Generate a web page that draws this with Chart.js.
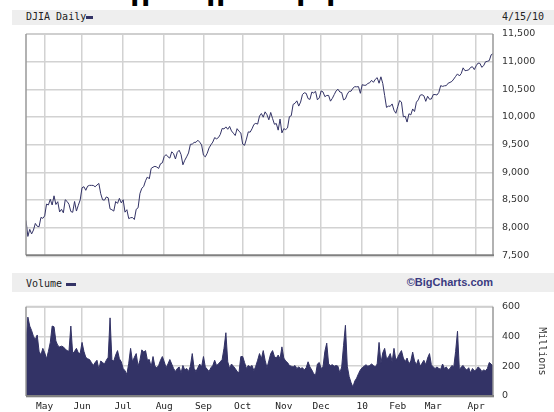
<!DOCTYPE html>
<html lang="en">
<head>
<meta charset="UTF-8">
<title>DJIA Daily</title>
<script src="https://cdn.jsdelivr.net/npm/chart.js"></script>
<style>
  body { margin:0; width:554px; height:412px; background:#fff; position:relative; overflow:hidden;
         font-family:"DejaVu Sans Mono", monospace; }
  .band { position:absolute; left:12px; right:0; background:#eeeeee; }
  #band1 { top:10px; height:15px; }
  #band2 { top:273px; height:19px; }
  .lbl { position:absolute; font-size:10px; line-height:12px; color:#222; white-space:nowrap; }
  .swatch { position:absolute; background:#333366; }
  .brand { position:absolute; right:61px; top:276px; font:bold 11px/13px "Liberation Sans", Arial, sans-serif; color:#3a3a80; }
  .clip { position:absolute; top:0; height:8px; width:12px; overflow:hidden; }
  .clip span { position:absolute; left:0; top:-30px; font:bold 34px/34px "Liberation Sans", Arial, sans-serif; color:#000; }
  canvas { position:absolute; left:0; }
  #priceChart { top:0; }
  #volChart { top:292px; }
</style>
</head>
<body>
  <!-- descenders of a headline cut off above the picture -->
  <div class="clip" style="left:130px"><span>p</span></div>
  <div class="clip" style="left:141px"><span>p</span></div>
  <div class="clip" style="left:206px"><span>p</span></div>
  <div class="clip" style="left:216px"><span>p</span></div>
  <div class="clip" style="left:296px"><span>p</span></div>
  <div class="clip" style="left:326px"><span>p</span></div>

  <div class="band" id="band1"></div>
  <div class="lbl" style="left:26px; top:11px">DJIA Daily</div>
  <div class="swatch" style="left:86px; top:16px; width:7px; height:3px"></div>
  <div class="lbl" style="left:502px; top:11px">4/15/10</div>

  <div class="band" id="band2"></div>
  <div class="lbl" style="left:26px; top:278px">Volume</div>
  <div class="swatch" style="left:66px; top:283px; width:10px; height:3px"></div>
  <div class="brand">©BigCharts.com</div>

  <canvas id="priceChart" width="554" height="270"></canvas>
  <canvas id="volChart" width="554" height="120"></canvas>

<script>
const months = ['May', 'Jun', 'Jul', 'Aug', 'Sep', 'Oct', 'Nov', 'Dec', '10', 'Feb', 'Mar', 'Apr'];
// trading sessions in each month shown, from Apr 17 2009 to Apr 15 2010
const sessions = [10, 20, 22, 22, 21, 21, 22, 20, 22, 19, 19, 23, 10];

// DJIA daily close
const djia = [
  8131, 7841, 7969, 7886, 7957, 8076, 8025, 8016, 8185, 8168,
  8212, 8426, 8410, 8512, 8409, 8575, 8418, 8469, 8284, 8331, 8268, 8504, 8474, 8422, 8292, 8277, 8473, 8300, 8404, 8500,
  8721, 8740, 8675, 8750, 8764, 8764, 8763, 8739, 8770, 8799, 8612, 8504, 8497, 8555, 8539, 8339, 8323, 8299, 8472, 8438, 8529, 8447,
  8504, 8280, 8324, 8163, 8179, 8183, 8147, 8332, 8359, 8616, 8712, 8743, 8848, 8916, 8882, 9069, 9093, 9108, 9096, 9070, 9154, 9172,
  9286, 9320, 9280, 9257, 9370, 9338, 9241, 9362, 9399, 9321, 9136, 9218, 9280, 9350, 9506, 9510, 9540, 9543, 9580, 9545, 9496,
  9310, 9280, 9344, 9441, 9497, 9547, 9627, 9605, 9627, 9684, 9792, 9784, 9821, 9778, 9829, 9748, 9707, 9665, 9789, 9742, 9712,
  9509, 9488, 9600, 9731, 9726, 9787, 9865, 9885, 9871, 10016, 10063, 9996, 10093, 10041, 9949, 10082, 9972, 9868, 9882, 9762, 9962, 9713,
  9789, 9772, 9802, 10005, 10023, 10227, 10247, 10292, 10197, 10270, 10407, 10438, 10427, 10333, 10318, 10450, 10434, 10464, 10310, 10345,
  10471, 10453, 10367, 10389, 10390, 10286, 10337, 10405, 10471, 10502, 10452, 10441, 10309, 10328, 10414, 10464, 10466, 10520, 10548, 10545, 10548, 10428,
  10584, 10573, 10574, 10606, 10619, 10663, 10627, 10681, 10711, 10610, 10726, 10604, 10389, 10173, 10196, 10194, 10236, 10121, 10067,
  10185, 10297, 10270, 10003, 10013, 9908, 10058, 10038, 10145, 10099, 10268, 10309, 10393, 10403, 10383, 10283, 10375, 10321, 10325,
  10404, 10406, 10397, 10444, 10567, 10553, 10564, 10567, 10611, 10625, 10643, 10686, 10734, 10779, 10742, 10785, 10888, 10837, 10842, 10851, 10896, 10908, 10857,
  10927, 10974, 10970, 10898, 10928, 10998, 11006, 11019, 11123, 11145
];

// daily volume, millions of shares
const volume = [
  365, 530, 470, 440, 400, 380, 410, 300, 275, 320,
  290, 250, 300, 360, 470, 465, 370, 340, 330, 335,
  330, 315, 305, 300, 470, 285, 300, 320, 290, 285,
  360, 300, 260, 250, 245, 225, 205, 225, 240, 180,
  235, 225, 215, 240, 260, 525, 240, 235, 275, 305,
  250, 230, 185, 170, 145, 220, 320, 230, 260, 285,
  200, 240, 310, 295, 305, 240, 245, 195, 265, 200,
  190, 205, 240, 265, 230, 190, 215, 245, 215, 185,
  165, 185, 195, 155, 205, 175, 185, 165, 200, 285,
  185, 165, 190, 215, 195, 265, 195, 180, 165, 190,
  205, 240, 205, 215, 230, 245, 320, 425, 230, 185,
  215, 200, 185, 165, 155, 265, 265, 225, 185, 205,
  195, 205, 170, 200, 240, 285, 250, 305, 240, 190,
  235, 285, 305, 265, 255, 275, 250, 330, 255, 235,
  225, 205, 200, 195, 205, 185, 195, 185, 190, 175,
  190, 230, 195, 175, 150, 140, 215, 225, 185, 195,
  300, 355, 215, 205, 210, 200, 205, 200, 155, 195,
  340, 475, 200, 130, 90, 60, 100, 120, 150, 175,
  190, 200, 210, 200, 205, 215, 205, 195, 215, 360,
  220, 290, 320, 250, 260, 285, 230, 320, 240, 260,
  285, 305, 255, 230, 255, 215, 235, 295, 235, 210,
  245, 200, 220, 240, 210, 255, 285, 210, 195, 185,
  195, 185, 180, 215, 185, 195, 175, 185, 205, 195,
  300, 435, 175, 195, 205, 185, 175, 190, 155, 185,
  170, 175, 195, 185, 165, 175, 170, 185, 225, 215, 200
];

let acc = 0;
const monthStarts = sessions.slice(0, -1).map(n => acc += n);
const lastDay = djia.length - 1;

const navy = '#333366';
const gridColor = '#d2d2d2';

// box round the plot: light top, darker sides and bottom
const framePlugin = {
  id: 'frame',
  afterDraw(chart) {
    const { ctx, chartArea: a } = chart;
    ctx.save();
    ctx.lineWidth = 2;
    ctx.strokeStyle = '#cfcfcf';
    ctx.beginPath(); ctx.moveTo(a.left, a.top); ctx.lineTo(a.right, a.top); ctx.stroke();
    ctx.strokeStyle = '#999999';
    ctx.lineWidth = 1.5;
    ctx.beginPath(); ctx.moveTo(a.left, a.top); ctx.lineTo(a.left, a.bottom); ctx.stroke();
    ctx.beginPath(); ctx.moveTo(a.right, a.top); ctx.lineTo(a.right, a.bottom); ctx.stroke();
    ctx.strokeStyle = '#808080';
    ctx.lineWidth = 2;
    ctx.beginPath(); ctx.moveTo(a.left, a.bottom); ctx.lineTo(a.right + 1, a.bottom); ctx.stroke();
    ctx.strokeStyle = '#d8d8d8';
    ctx.lineWidth = 1;
    ctx.beginPath(); ctx.moveTo(a.left, a.bottom + 1.5); ctx.lineTo(a.right + 1, a.bottom + 1.5); ctx.stroke();
    ctx.restore();
  }
};

function xScale(showLabels, height) {
  return {
    type: 'linear',
    min: 0,
    max: lastDay,
    afterBuildTicks: s => { s.ticks = monthStarts.map(v => ({ value: v })); },
    afterFit: s => { s.height = height; },
    grid: { color: gridColor, lineWidth: 1.5, drawTicks: false },
    border: { display: false },
    ticks: {
      display: showLabels,
      padding: 5,
      maxRotation: 0,
      autoSkip: false,
      color: '#222',
      font: { family: 'DejaVu Sans Mono', size: 9.5 },
      callback: v => months[monthStarts.indexOf(v)]
    }
  };
}

function yScale(min, max, step, fmt) {
  return {
    position: 'right',
    min: min,
    max: max,
    afterFit: s => { s.width = 61; },
    grid: { color: gridColor, lineWidth: 1.5, drawTicks: false },
    border: { display: false },
    ticks: {
      stepSize: step,
      padding: 9,
      color: '#333',
      font: { family: 'DejaVu Sans', size: 9.5 },
      callback: fmt
    }
  };
}

new Chart(document.getElementById('priceChart'), {
  type: 'line',
  data: {
    datasets: [{
      data: djia.map((v, i) => ({ x: i, y: v })),
      borderColor: navy,
      borderWidth: 1,
      pointRadius: 0,
      tension: 0,
      fill: false
    }]
  },
  options: {
    responsive: false,
    animation: false,
    layout: { padding: { left: 26, top: 34, right: 0, bottom: 0 } },
    plugins: { legend: { display: false }, tooltip: { enabled: false } },
    scales: {
      x: xScale(false, 8),
      y: yScale(7500, 11500, 500, v => v.toLocaleString('en-US'))
    }
  },
  plugins: [framePlugin]
});

const volY = yScale(0, 600, 200, v => String(v));
volY.title = {
  display: true,
  text: 'Millions',
  color: '#333',
  padding: { top: 6.5 },
  font: { family: 'DejaVu Sans Mono', size: 10 }
};

new Chart(document.getElementById('volChart'), {
  type: 'line',
  data: {
    datasets: [{
      data: volume.map((v, i) => ({ x: i, y: v })),
      borderColor: navy,
      backgroundColor: navy,
      borderWidth: 1,
      pointRadius: 0,
      tension: 0,
      fill: 'origin'
    }]
  },
  options: {
    responsive: false,
    animation: false,
    layout: { padding: { left: 26, top: 8, right: 0, bottom: 0 } },
    plugins: { legend: { display: false }, tooltip: { enabled: false } },
    scales: {
      x: xScale(true, 16),
      y: volY
    }
  },
  plugins: [framePlugin]
});
</script>
</body>
</html>
